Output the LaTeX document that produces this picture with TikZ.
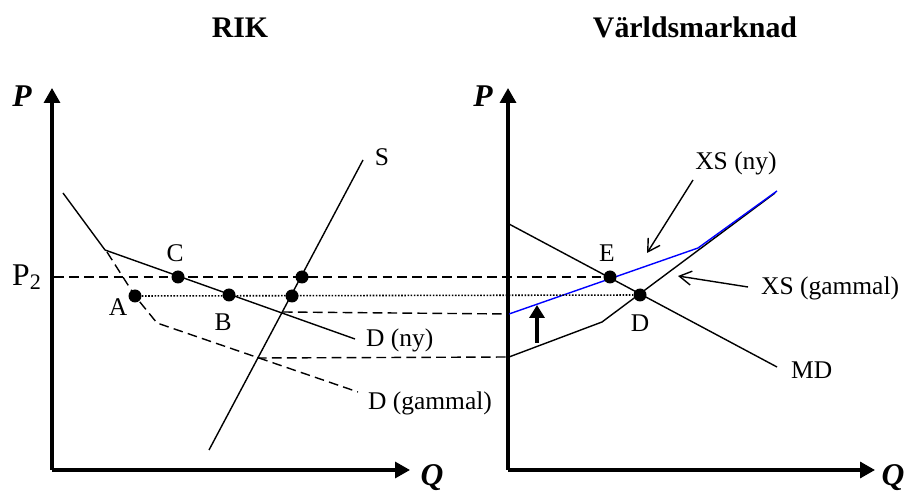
\documentclass[tikz,border=0pt]{standalone}
\usepackage{fontspec}
\setmainfont{Liberation Serif}
\usetikzlibrary{arrows.meta}

\begin{document}
\begin{tikzpicture}[x=0.02cm, y=-0.02cm,
            axisline/.style={line width=1.9pt, -{Triangle[length=0.3cm, width=0.32cm]}},
            curve/.style={line width=0.8pt},
            guide/.style={line width=0.8pt, dash pattern=on 5.5pt off 3pt},
            dotline/.style={line width=0.9pt, dash pattern=on 0.9pt off 0.9pt},
            dot/.style={circle, fill=black, inner sep=0pt, minimum size=0.26cm},
            lbl/.style={font=\fontsize{14.5}{17}\selectfont, inner sep=1pt},
            axlbl/.style={font=\fontsize{18}{21}\selectfont\bfseries\itshape},
            heading/.style={font=\fontsize{17}{20}\selectfont\bfseries},
            pointer/.style={line width=0.8pt, -{Straight Barb[length=0.24cm, width=0.28cm]}},
            liftarrow/.style={line width=2.8pt, -{Triangle[length=0.26cm, width=0.3cm]}},
        ]
            \useasboundingbox (0,0) rectangle (905,492);

            % headings
            \node[heading, anchor=base] (rik) at (240,38) {RIK};
            \node[heading, anchor=base] (world) at (695,38) {Världsmarknad};

            % RIK: axes
            \coordinate (o1) at (52,470);
            \coordinate (p1top) at (52,88);
            \coordinate (q1end) at (410,470);
            \draw[axisline] (o1) -- (p1top);
            \draw[axisline] (o1) -- (q1end);
            \node[axlbl] (p1) at (22,96) {P};
            \node[axlbl] (q1) at (432,478) {Q};
            \node[font=\fontsize{18}{21}\selectfont] (ptwo) at (27,277) {P\textsubscript{2}};
            \coordinate (p2ax) at (54,277);

            % RIK: demand and supply
            \coordinate (dnytop) at (63,193);
            \coordinate (kink) at (105,250);
            \coordinate (dnyend) at (355,339);
            \draw[curve] (dnytop) -- (kink) -- (dnyend);
            \node[lbl, anchor=west] (dny) at (364,340) {D (ny)};

            \coordinate (dg1) at (107,252);
            \coordinate (dg2) at (157,323);
            \coordinate (dgend) at (358,392);
            \draw[guide] (dg1) -- (135,296) -- (dg2) -- (dgend);
            \node[lbl, anchor=west] (dgam) at (366,403) {D (gammal)};

            \coordinate (sbot) at (209,450);
            \coordinate (stop) at (363,160);
            \draw[curve] (sbot) -- (stop);
            \node[lbl] (slbl) at (382,157) {S};

            \coordinate (sdny) at (283,312);
            \coordinate (sdgam) at (257,358);

            % Varldsmarknad: axes
            \coordinate (o2) at (508,470);
            \coordinate (p2top) at (508,88);
            \coordinate (q2end) at (875,470);
            \draw[axisline] (o2) -- (p2top);
            \draw[axisline] (o2) -- (q2end);
            \node[axlbl] (p2) at (483,96) {P};
            \node[axlbl] (q2) at (893,478) {Q};

            % Varldsmarknad: import demand and export supply
            \coordinate (mdtop) at (509,224);
            \coordinate (mdend) at (777,367);
            \draw[curve] (mdtop) -- (mdend);
            \node[lbl, anchor=west] (md) at (789,370) {MD};

            \coordinate (xsg0) at (509,357);
            \coordinate (xsg1) at (602,322);
            \coordinate (xsgend) at (775,193);
            \draw[curve] (xsg0) -- (xsg1) -- (xsgend);

            \coordinate (xsn0) at (509,314);
            \coordinate (xsn1) at (698,248);
            \coordinate (xsnend) at (777,191);
            \draw[curve, blue] (xsn0) -- (xsn1) -- (xsnend);

            \coordinate (liftlo) at (537,343);
            \coordinate (lifthi) at (537,305);
            \draw[liftarrow] (liftlo) -- (lifthi);

            % points
            \node[dot] (A) at (135,296) {};
            \node[dot] (B) at (229,295) {};
            \node[dot] (C) at (178,277) {};
            \node[dot] (s2) at (302,277) {};
            \node[dot] (s1) at (292,296) {};
            \node[dot] (E) at (610,277) {};
            \node[dot] (D) at (640,295) {};
            \node[lbl] at (118,307) {A};
            \node[lbl] at (223,322) {B};
            \node[lbl] at (175,253) {C};
            \node[lbl] at (607,253) {E};
            \node[lbl] at (640,323) {D};

            % price levels
            \draw[guide] (p2ax) -- (E);
            \draw[dotline] (A) -- (D);
            \draw[guide] (sdny) -- (xsn0);
            \draw[guide] (sdgam) -- (xsg0);

            % curve labels
            \node[lbl] (xsny) at (736,163) {XS (ny)};
            \node[lbl, anchor=west] (xsgam) at (759,288) {XS (gammal)};
            \coordinate (xsnytail) at (693,180);
            \coordinate (xsnytip) at (647,253);
            \coordinate (xsgtail) at (748,287);
            \coordinate (xsgtip) at (678,276);
            \draw[pointer] (xsnytail) -- (xsnytip);
            \draw[pointer] (xsgtail) -- (xsgtip);
        \end{tikzpicture}
\end{document}
